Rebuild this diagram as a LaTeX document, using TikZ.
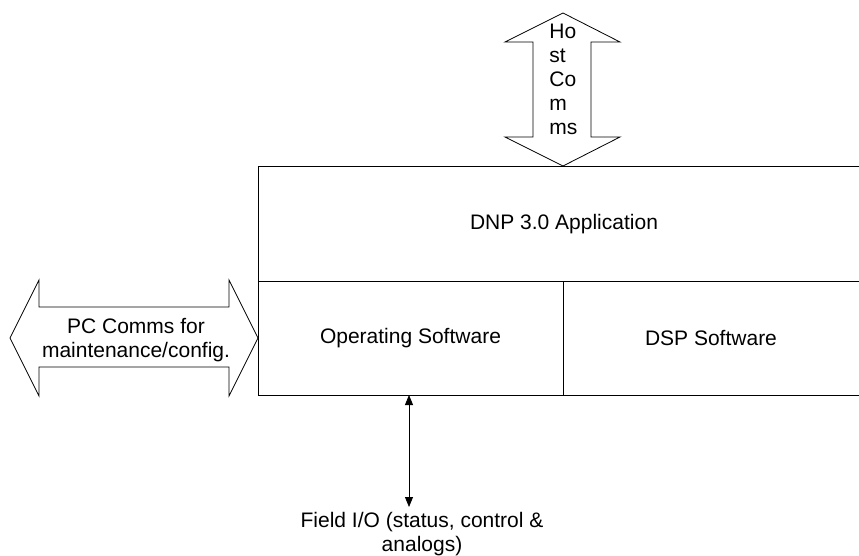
\documentclass[tikz,border=0pt]{standalone}
\usepackage{fontspec}
\setmainfont{Liberation Sans}
\usepackage{tikz}
\usetikzlibrary{arrows.meta}

\begin{document}
\begin{tikzpicture}[x=1pt, y=-1pt, line width=0.8pt,
    lbl/.style={font=\fontsize{21}{24}\selectfont, inner sep=0pt},
    blockarrow/.style={draw, fill=white, line join=miter}]
    \useasboundingbox (0,0) rectangle (859,556);

    % Layered box (open on the right)
    \draw (859,166) -- (258,166) -- (258,395) -- (859,395);
    \draw (258,281) -- (859,281);
    \draw (563,281) -- (563,395);
    \node[lbl] (app) at (564,224) {DNP 3.0 Application};
    \node[lbl] (opsw) at (410.5,338) {Operating Software};
    \node[lbl] (dspsw) at (711,338) {DSP Software};

    % Host comms
    \draw[blockarrow] (563,13) -- (620,42) -- (591,42) -- (591,137) -- (620,137) -- (563,166)
        -- (505,137) -- (533,137) -- (533,42) -- (505,42) -- cycle;
    \node[lbl, anchor=north west, align=left] (host) at (549,24) {Ho\\st\\Co\\m\\ms};

    % PC comms
    \draw[blockarrow] (10,338) -- (39,280) -- (39,307) -- (229,307) -- (229,280) -- (258,338)
        -- (229,396) -- (229,367) -- (39,367) -- (39,396) -- cycle;
    \node[lbl, align=center] (pc) at (136,340) {PC Comms for\\maintenance/config.};

    % Field I/O
    \coordinate (fio) at (409,395);
    \node[lbl, anchor=north, align=center, inner sep=5pt] (field) at (422,507)
        {Field I/O (status, control \&\\analogs)};
    \draw[{Triangle[width=8pt,length=10pt]}-{Triangle[width=8pt,length=10pt]}]
        (fio) -- (field.north -| fio);
\end{tikzpicture}
\end{document}
